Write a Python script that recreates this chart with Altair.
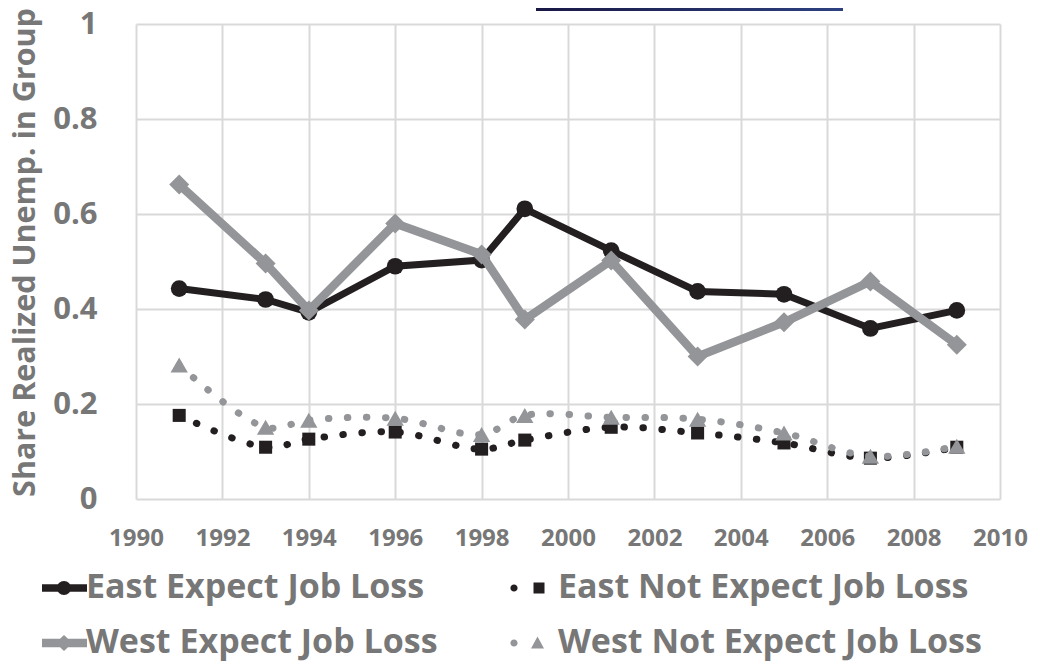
import altair as alt
import pandas as pd

years = [1991, 1993, 1994, 1996, 1998, 1999, 2001, 2003, 2005, 2007, 2009]
east_expect = [0.443, 0.420, 0.393, 0.490, 0.503, 0.611, 0.523, 0.437, 0.431, 0.359, 0.397]
east_not_expect = [0.176, 0.109, 0.126, 0.141, 0.105, 0.124, 0.151, 0.139, 0.118, 0.086, 0.109]
west_expect = [0.662, 0.496, 0.397, 0.580, 0.515, 0.378, 0.502, 0.300, 0.372, 0.458, 0.325]
west_not_expect = [0.282, 0.151, 0.166, 0.170, 0.136, 0.176, 0.172, 0.168, 0.139, 0.090, 0.111]

series_names = ["East Expect Job Loss", "East Not Expect Job Loss",
                "West Expect Job Loss", "West Not Expect Job Loss"]
x_ticks = [1990, 1992, 1994, 1996, 1998, 2000, 2002, 2004, 2006, 2008, 2010]
y_ticks = [0, 0.2, 0.4, 0.6, 0.8, 1]

BLACK = "#231f20"
GRAY = "#939598"
TEXT = "#777777"
FONT = "Open Sans"

rows = []
for name, vals in zip(series_names, [east_expect, east_not_expect, west_expect, west_not_expect]):
    for yr, v in zip(years, vals):
        rows.append({"year": yr, "share": v, "series": name})
df = pd.DataFrame(rows)

x_enc = alt.X("year:Q", scale=alt.Scale(domain=[1990, 2010], nice=False, zero=False),
              axis=alt.Axis(values=x_ticks, format="d", title=None, labelFont=FONT,
                            labelFontSize=24, labelFontWeight="bold", labelColor=TEXT,
                            labelPadding=27, ticks=False, tickSize=0, domain=False,
                            gridColor="#d9d9d9", gridWidth=2, labelFlush=False))
y_enc = alt.Y("share:Q", scale=alt.Scale(domain=[0, 1], nice=False),
              axis=alt.Axis(values=y_ticks, format="~g", title="Share Realized Unemp. in Group",
                            labelFont=FONT, labelFontSize=31, labelFontWeight="bold",
                            labelColor=TEXT, labelPadding=39, ticks=False, tickSize=0,
                            domain=False, gridColor="#d9d9d9", gridWidth=2,
                            titleFont=FONT, titleFontSize=30.5, titleFontWeight="bold",
                            titleColor=TEXT, titleX=-111, titleY=228, titleAngle=-90,
                            titleAlign="center", titleBaseline="middle"))

base = alt.Chart(df)

def only(name):
    return base.transform_filter(alt.datum.series == name)

def series_line(name, color, width, dotted):
    kw = dict(color=color, strokeWidth=width)
    if dotted:
        kw.update(strokeDash=[0.5, 18.5], strokeCap="round", interpolate="catmull-rom")
    return only(name).mark_line(**kw).encode(x=x_enc, y=y_enc)

def series_points(name, color, shape, size):
    return only(name).mark_point(filled=True, opacity=1, color=color, shape=shape,
                                 size=size).encode(x=x_enc, y=y_enc)

layers = [
    series_line(series_names[0], BLACK, 7, False),
    series_points(series_names[0], BLACK, "circle", 280),
    series_line(series_names[1], BLACK, 7, True),
    series_points(series_names[1], BLACK, "square", 170),
    series_line(series_names[2], GRAY, 8.5, False),
    series_points(series_names[2], GRAY, "diamond", 400),
    series_line(series_names[3], GRAY, 7, True),
    series_points(series_names[3], GRAY, "triangle-up", 300),
]

def rect(x0, x1, h):
    return f"M{x0},{-h} L{x1},{-h} L{x1},{h} L{x0},{h} Z"
def circ(cx, r):
    return f"M{cx - r},0 A{r},{r} 0 1,1 {cx + r},0 A{r},{r} 0 1,1 {cx - r},0 Z"

p_ee = rect(-2.2, 2.3, 0.38) + " " + circ(0, 0.7)
p_we = rect(-2.2, 2.3, 0.42) + " M0,-0.8 L0.85,0 L0,0.8 L-0.85,0 Z"
p_en = circ(-2.2, 0.36) + " M-0.25,-0.55 L0.85,-0.55 L0.85,0.55 L-0.25,0.55 Z"
p_wn = circ(-2.2, 0.36) + " M0.15,-0.65 L0.8,0.55 L-0.5,0.55 Z"

shape_expr = (
    f"datum.value === '{series_names[0]}' ? '{p_ee}' : "
    f"datum.value === '{series_names[1]}' ? '{p_en}' : "
    f"datum.value === '{series_names[2]}' ? '{p_we}' : '{p_wn}'"
)

legend = alt.Legend(
    title=None, orient="none", legendX=-89, legendY=547, direction="horizontal",
    columns=2, columnPadding=72, rowPadding=21, symbolSize=400, labelOffset=5,
    labelFont=FONT, labelFontSize=34, labelFontWeight="bold", labelColor=TEXT,
    labelLimit=0, padding=0, symbolType=alt.ExprRef(shape_expr),
    symbolStrokeWidth=0, symbolOpacity=1,
)

legend_layer = base.mark_point(filled=True, size=0, opacity=0).encode(
    x=x_enc, y=y_enc,
    color=alt.Color("series:N", scale=alt.Scale(domain=series_names,
                    range=[BLACK, BLACK, GRAY, GRAY]), legend=legend),
)

bar = alt.Chart(pd.DataFrame({"k": [0]})).mark_rect(
    color=alt.LinearGradient(gradient="linear", x1=0, x2=1, y1=0, y2=0,
                             stops=[alt.GradientStop(color="#191845", offset=0),
                                    alt.GradientStop(color="#2d4180", offset=1)])
).encode(x=alt.value(400), x2=alt.value(707), y=alt.value(-16), y2=alt.value(-13))

chart = alt.layer(*layers, legend_layer, bar).properties(
    width=864, height=475,
    autosize=alt.AutoSizeParams(type="none"),
    padding={"left": 128, "top": 16, "right": 29, "bottom": 163},
).configure_view(stroke=None)

chart.save("out.html", embed_options={"renderer": "svg", "actions": False})
